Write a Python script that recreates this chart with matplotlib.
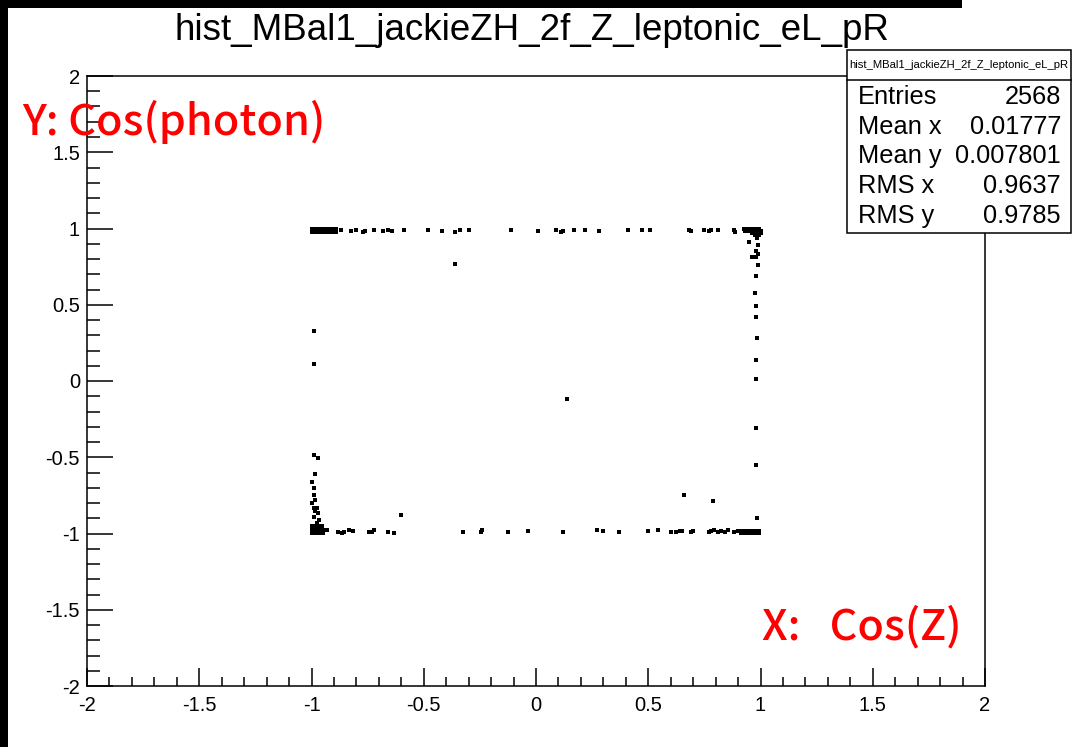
import numpy as np
import matplotlib
matplotlib.use("Agg")
import matplotlib.pyplot as plt
from matplotlib.patches import Rectangle
from matplotlib.ticker import MultipleLocator

# cos(Z) / cos(photon) entries
# top edge (cos(photon) ~ +1)
top_x = [-1.0, -0.99, -0.98, -0.97, -0.96, -0.95, -0.94, -0.93, -0.92, -0.91, -0.90, -0.89,
         -1.0, -0.99, -0.98, -0.97, -0.96, -0.95, -0.94, -0.93, -0.92, -0.91, -0.90, -0.89,
         -0.87, -0.826, -0.80, -0.77, -0.76, -0.72, -0.68, -0.66, -0.64, -0.59, -0.48, -0.42,
         -0.36, -0.34, -0.30, -0.11, 0.01, 0.09, 0.11, 0.12, 0.17, 0.22, 0.28, 0.41, 0.47,
         0.51, 0.68, 0.69, 0.75, 0.77, 0.78, 0.81, 0.88, 0.885]
top_y = [0.995, 0.995, 0.995, 0.995, 0.995, 0.995, 0.995, 0.995, 0.995, 0.995, 0.995, 0.995,
         0.98, 0.98, 0.98, 0.98, 0.98, 0.98, 0.98, 0.98, 0.98, 0.98, 0.98, 0.98,
         0.99, 0.985, 0.99, 0.98, 0.985, 0.99, 0.985, 0.99, 0.985, 0.99, 0.99, 0.985,
         0.98, 0.99, 0.99, 0.99, 0.985, 0.99, 0.98, 0.985, 0.99, 0.99, 0.985, 0.99, 0.99,
         0.99, 0.99, 0.985, 0.99, 0.985, 0.99, 0.99, 0.99, 0.98]

# top-right corner and right edge (cos(Z) ~ +1)
right_x = [0.925, 0.935, 0.945, 0.955, 0.965, 0.975, 0.985, 0.995,
           0.93, 0.95, 0.96, 0.97, 0.98, 0.99, 1.0,
           0.96, 0.975, 0.99, 1.0, 0.975, 0.99, 0.995, 0.985,
           0.95, 0.99, 0.98, 0.99, 0.96, 0.98, 0.99, 0.98, 0.975, 0.98, 0.98,
           0.985, 0.98, 0.98, 0.98, 0.98, 0.985]
right_y = [1.0, 1.0, 1.0, 1.0, 1.0, 1.0, 1.0, 1.0,
           0.985, 0.985, 0.985, 0.985, 0.985, 0.985, 0.985,
           0.97, 0.97, 0.97, 0.97, 0.955, 0.955, 0.955, 0.94,
           0.91, 0.89, 0.85, 0.83, 0.81, 0.81, 0.76, 0.69, 0.58, 0.49, 0.42,
           0.28, 0.14, 0.01, -0.31, -0.55, -0.90]

# bottom edge (cos(photon) ~ -1)
bottom_x = [-0.93, -0.88, -0.866, -0.857, -0.835, -0.817, -0.746, -0.73, -0.723, -0.66,
            -0.634, -0.326, -0.245, -0.24, -0.125, -0.035, 0.12, 0.27, 0.30, 0.37, 0.50,
            0.545, 0.60, 0.625, 0.64, 0.65, 0.69, 0.70, 0.77, 0.78, 0.795, 0.81, 0.826,
            0.84, 0.857, 0.88, 0.90,
            0.915, 0.925, 0.935, 0.945, 0.955, 0.965, 0.975, 0.985, 0.995,
            0.915, 0.925, 0.935, 0.945, 0.955, 0.965, 0.975, 0.985, 0.995]
bottom_y = [-0.975, -0.99, -0.995, -0.99, -0.975, -0.985, -0.99, -0.99, -0.98, -0.99,
            -0.995, -0.99, -0.99, -0.98, -0.99, -0.985, -0.99, -0.975, -0.985, -0.99, -0.985,
            -0.975, -0.99, -0.99, -0.985, -0.985, -0.99, -0.985, -0.99, -0.985, -0.98, -0.99, -0.985,
            -0.99, -0.98, -0.99, -0.985,
            -0.985, -0.985, -0.985, -0.985, -0.985, -0.985, -0.985, -0.985, -0.985,
            -0.997, -0.997, -0.997, -0.997, -0.997, -0.997, -0.997, -0.997, -0.997]

# bottom-left corner and left edge (cos(Z) ~ -1)
left_x = [-1.0, -0.99, -0.98, -0.97, -0.96, -0.95,
          -1.0, -0.99, -0.98, -0.97, -0.96, -0.95,
          -1.0, -0.99, -0.98, -0.97, -0.96,
          -1.0, -0.985, -0.97, -0.955,
          -0.99, -0.97, -0.985, -1.0, -0.99, -0.99, -0.985, -1.0, -0.99, -0.975,
          -0.985, -0.97, -0.99, -0.965, -0.975, -0.99, -0.987]
left_y = [-0.995, -0.995, -0.995, -0.995, -0.995, -0.995,
          -0.98, -0.98, -0.98, -0.98, -0.98, -0.98,
          -0.965, -0.965, -0.965, -0.965, -0.965,
          -0.95, -0.95, -0.95, -0.95,
          -0.485, -0.505, -0.61, -0.66, -0.70, -0.75, -0.78, -0.80, -0.83, -0.833,
          -0.85, -0.866, -0.89, -0.91, -0.93, 0.33, 0.11]

# isolated entries away from the edges
inner_x = [-0.36, -0.60, 0.14, 0.66, 0.79]
inner_y = [0.77, -0.88, -0.12, -0.75, -0.79]

W, H = 1073, 747
fig = plt.figure(figsize=(W / 100, H / 100), dpi=100)
fig.patch.set_facecolor("white")
plt.rcParams["font.family"] = ["Liberation Sans", "DejaVu Sans"]


def fx(px):
    return px / W


def fy(py):
    return 1 - py / H


ax = fig.add_axes([fx(87), fy(686), (985 - 87) / W, (686 - 76) / H])
xs = top_x + right_x + bottom_x + left_x + inner_x
ys = top_y + right_y + bottom_y + left_y + inner_y
ax.scatter(xs, ys, s=8, marker="s", c="black", linewidths=0)

ax.set_xlim(-2, 2)
ax.set_ylim(-2, 2)
ax.xaxis.set_major_locator(MultipleLocator(0.5))
ax.xaxis.set_minor_locator(MultipleLocator(0.1))
ax.yaxis.set_major_locator(MultipleLocator(0.5))
ax.yaxis.set_minor_locator(MultipleLocator(0.1))
ax.xaxis.set_major_formatter(plt.FuncFormatter(lambda v, p: f"{v:g}"))
ax.yaxis.set_major_formatter(plt.FuncFormatter(lambda v, p: f"{v:g}"))
ax.tick_params(axis="x", which="major", direction="in", length=13, width=1.1,
               labelsize=14.5, pad=7, top=False)
ax.tick_params(axis="x", which="minor", direction="in", length=6.5, width=1.1, top=False)
ax.tick_params(axis="y", which="major", direction="in", length=19, width=1.1,
               labelsize=14.5, pad=5, right=False)
ax.tick_params(axis="y", which="minor", direction="in", length=9.5, width=1.1, right=False)
for sp in ax.spines.values():
    sp.set_linewidth(1.1)

# title
fig.text(fx(532), fy(30), "hist_MBal1_jackieZH_2f_Z_leptonic_eL_pR",
         ha="center", va="center", fontsize=26.5)

# stats box
fig.patches.append(Rectangle((fx(847), fy(233)), (1071 - 847) / W, (233 - 50) / H,
                             transform=fig.transFigure, facecolor="white",
                             edgecolor="black", linewidth=1.1, zorder=5))
fig.lines.append(plt.Line2D([fx(847), fx(1071)], [fy(80), fy(80)],
                            transform=fig.transFigure, color="black", lw=1.1, zorder=6))
fig.text(fx(959), fy(65), "hist_MBal1_jackieZH_2f_Z_leptonic_eL_pR",
         ha="center", va="center", fontsize=8.1, zorder=7)
stat_names = ["Entries", "Mean x", "Mean y", "RMS x", "RMS y"]
stat_values = ["2568", "0.01777", "0.007801", "0.9637", "0.9785"]
stat_rows = [97, 127, 156, 186, 216]
for name, val, py in zip(stat_names, stat_values, stat_rows):
    fig.text(fx(858), fy(py), name, ha="left", va="center", fontsize=18.3, zorder=7)
    fig.text(fx(1061), fy(py), val, ha="right", va="center", fontsize=18.3, zorder=7)

# axis annotations in red
fig.text(fx(22), fy(122), "Y: Cos(photon)", ha="left", va="center", color="red",
         fontsize=31, fontweight="medium",
         family=["Noto Sans CJK JP", "DejaVu Sans"], zorder=8)
fig.text(fx(762), fy(627), "X:   Cos(Z)", ha="left", va="center", color="red",
         fontsize=31, fontweight="medium",
         family=["Noto Sans CJK JP", "DejaVu Sans"], zorder=8)

# black frame strips around the canvas
fig.patches.append(Rectangle((0, 0), fx(8), 1, transform=fig.transFigure,
                             facecolor="black", edgecolor="none", zorder=9))
fig.patches.append(Rectangle((0, fy(8)), fx(962), 8 / H, transform=fig.transFigure,
                             facecolor="black", edgecolor="none", zorder=9))

fig.savefig("out.png", dpi=100)
